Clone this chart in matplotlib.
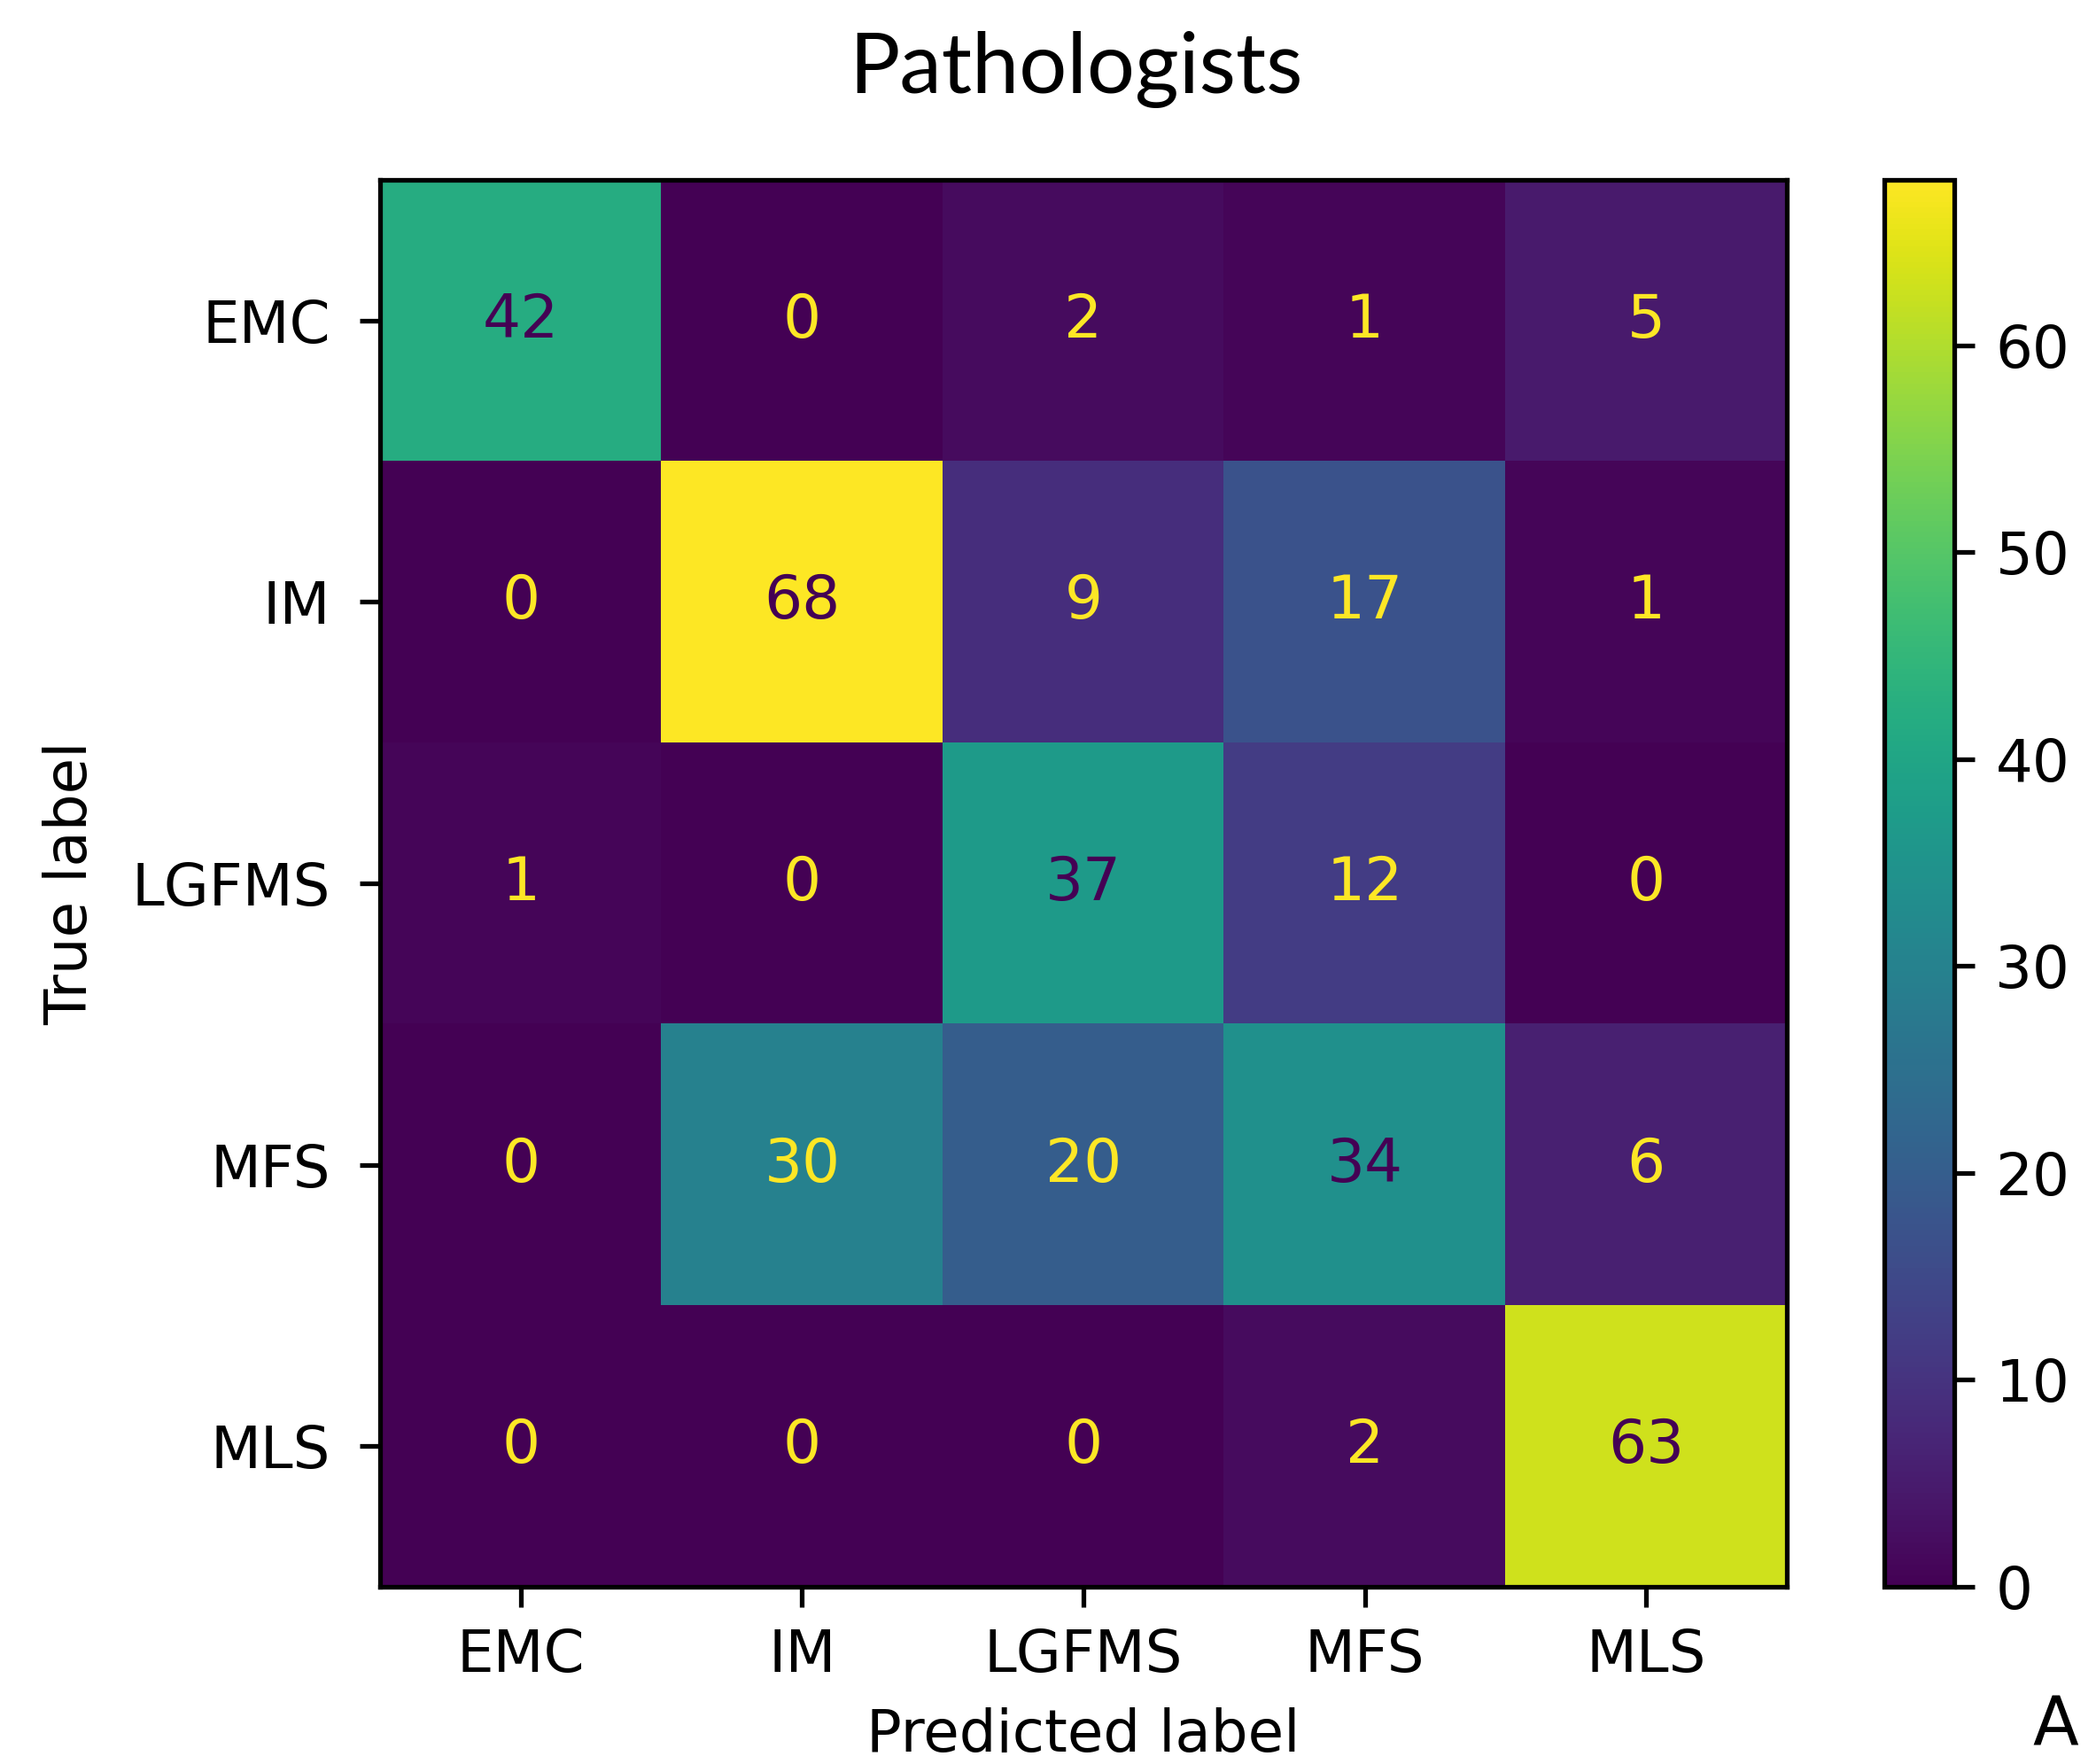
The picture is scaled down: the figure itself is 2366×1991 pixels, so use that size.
import numpy as np
import matplotlib.pyplot as plt

labels = ["EMC", "IM", "LGFMS", "MFS", "MLS"]
cm = np.array([
    [42, 0, 2, 1, 5],
    [0, 68, 9, 17, 1],
    [1, 0, 37, 12, 0],
    [0, 30, 20, 34, 6],
    [0, 0, 0, 2, 63],
])
title = "Pathologists"
panel = "A"

dpi = 474
fig = plt.figure(figsize=(2366 / dpi, 1991 / dpi), dpi=dpi)
ax = fig.add_axes([0.1805, 0.1005, 0.6728, 0.7975])
cax = fig.add_axes([0.8990, 0.1005, 0.0335, 0.7975])

cmap = plt.get_cmap("viridis")
im = ax.imshow(cm, cmap=cmap, interpolation="nearest", vmin=cm.min(), vmax=cm.max())
fig.colorbar(im, cax=cax)

# text colour follows sklearn's ConfusionMatrixDisplay rule
thresh = (cm.max() + cm.min()) / 2.0
for i in range(cm.shape[0]):
    for j in range(cm.shape[1]):
        color = cmap(0.0) if cm[i, j] >= thresh else cmap(1.0)
        ax.text(j, i, str(cm[i, j]), ha="center", va="center", color=color, fontsize=10.3)

ax.set_xticks(range(len(labels)))
ax.set_xticklabels(labels)
ax.set_yticks(range(len(labels)))
ax.set_yticklabels(labels)
ax.tick_params(axis="y", pad=5)
ax.set_xlabel("Predicted label")
ax.set_ylabel("True label", labelpad=5.5)

fig.text(0.5135, 1 - 78 / 1991, title, ha="center", va="center", fontsize=14.5, family="Lato")
fig.text(2346 / 2366, 5 / 1991, panel, ha="right", va="bottom", fontsize=11.5)

fig.savefig("out.png", dpi=dpi)
